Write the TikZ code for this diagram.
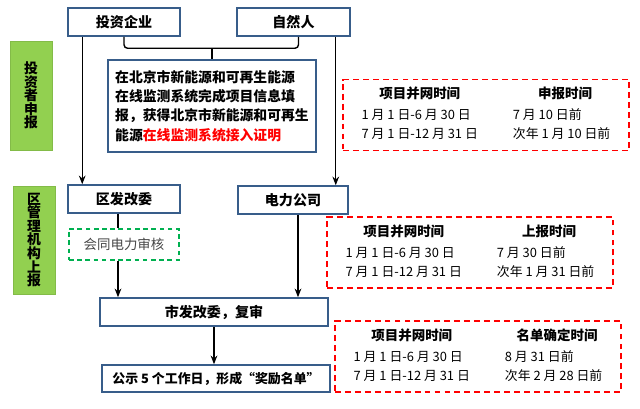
\documentclass[tikz,border=0pt]{standalone}
\usepackage{fontspec}
\setmainfont{Noto Sans CJK SC}
\usepackage{xcolor}
\usetikzlibrary{arrows.meta, positioning, calc}
\definecolor{boxblue}{RGB}{56, 93, 138}
\definecolor{labelgreen}{RGB}{146, 208, 80}
\definecolor{dashgreen}{RGB}{0, 176, 80}
\definecolor{dashred}{RGB}{255, 0, 0}
\definecolor{softgray}{RGB}{70, 70, 70}
\newcommand{\tightstack}{\fontsize{11.8}{11.6}\selectfont\bfseries\lineskiplimit -6pt\relax}

\tikzset{
  bluebox/.style={draw=boxblue, line width=1.3pt, fill=white, inner sep=2pt,
                  font=\fontsize{12}{14}\selectfont\bfseries},
  sidelabel/.style={fill=labelgreen, draw=labelgreen!90!black, line width=0.3pt,
                    minimum width=1.26cm, align=center, inner sep=1pt,
                    font=\tightstack},
  checkbox/.style={draw=dashgreen, line width=1.2pt, dash pattern=on 4pt off 3pt,
                   font=\fontsize{11.5}{14}\selectfont, text=softgray},
  timebox/.style={draw=dashred, line width=1.3pt, dash pattern=on 5pt off 3.5pt,
                  minimum width=8.58cm, minimum height=2.13cm, inner sep=0pt,
                  font=\fontsize{11}{16}\selectfont},
  flow/.style={-{Stealth[length=2.6mm, width=2mm]}, line width=1.2pt},
  joint/.style={line width=1.2pt}
}

\newcommand{\timetable}[4]{%
  \begin{tabular}{@{}l@{\hspace{1.05cm}}l@{}}
    \multicolumn{1}{@{}c@{\hspace{1.05cm}}}{\fontsize{11.5}{16}\selectfont\bfseries #1} &
    \multicolumn{1}{c@{}}{\fontsize{11.5}{16}\selectfont\bfseries #2}\\[2pt]
    1 月 1 日-6 月 30 日 & #3\\
    7 月 1 日-12 月 31 日 & #4
  \end{tabular}}

\begin{document}
\begin{tikzpicture}[x=0.03cm, y=-0.03cm]
  \useasboundingbox (0,0) rectangle (640,408);

  % investors
  \node[bluebox, minimum width=3.36cm, minimum height=0.84cm] (firm) at (124,22) {投资企业};
  \node[bluebox, minimum width=3.39cm, minimum height=0.84cm] (person) at (293.5,22) {自然人};
  \node[bluebox, font=\fontsize{11.8}{16.5}\selectfont\bfseries, align=left,
        minimum width=6.24cm, minimum height=2.76cm] (online) at (212,106) {%
    在北京市新能源和可再生能源\\
    在线监测系统完成项目信息填\\
    报，获得北京市新能源和可再生\\
    能源\textcolor{dashred}{在线监测系统接入证明}};

  % side labels
  \node[sidelabel, minimum height=3.27cm] (stageone) at (31,95.5) {投\\资\\者\\申\\报};
  \node[sidelabel, minimum height=3.24cm] (stagetwo) at (34,240) {区\\管\\理\\机\\构\\上\\报};

  % district level
  \node[bluebox, minimum width=3.36cm, minimum height=0.84cm] (district) at (124,199) {区发改委};
  \node[bluebox, minimum width=3.3cm, minimum height=0.84cm] (grid) at (293,200) {电力公司};
  \node[checkbox, minimum width=3.3cm, minimum height=0.93cm] (review) at (124,244.5) {会同电力审核};

  % city level
  \node[bluebox, minimum width=6.84cm, minimum height=0.84cm] (city) at (214,312) {市发改委，复审};
  \node[bluebox, minimum width=6.84cm, minimum height=0.81cm,
        font=\fontsize{11}{14}\selectfont\bfseries] (publish) at (216,378.5)
    {公示 5 个工作日，形成“奖励名单”};

  % deadlines
  \node[timebox] (applytime) at (486,115)
    {\timetable{项目并网时间}{申报时间}{7 月 10 日前}{次年 1 月 10 日前}};
  \node[timebox] (reporttime) at (470,252.5)
    {\timetable{项目并网时间}{上报时间}{7 月 30 日前}{次年 1 月 31 日前}};
  \node[timebox] (listtime) at (478,356.5)
    {\timetable{项目并网时间}{名单确定时间}{8 月 31 日前}{次年 2 月 28 日前}};

  % connectors
  \coordinate (brace) at ($(online.north)+(0,-11)$);
  \draw[joint, rounded corners=3pt] (firm.south) |- (brace) -| ($(person.south)+(5,0)$);
  \draw[joint] (brace) -- (online.north);
  \draw[flow] ($(firm.south west)+(15,0)$) -- ($(district.north west)+(15,0)$);
  \draw[flow] ($(person.south east)+(-15,0)$) -- ($(grid.north east)+(-13,0)$);
  \draw[joint] ($(district.south)+(-6,0)$) -- ($(review.north)+(-6,0)$);
  \draw[flow] ($(review.south)+(-6,0)$) coordinate (from) -- (from |- city.north);
  \draw[flow] ($(grid.south)+(5,0)$) coordinate (to) -- (to |- city.north);
  \draw[flow] (city.south) -- (city.south |- publish.north);
\end{tikzpicture}
\end{document}
